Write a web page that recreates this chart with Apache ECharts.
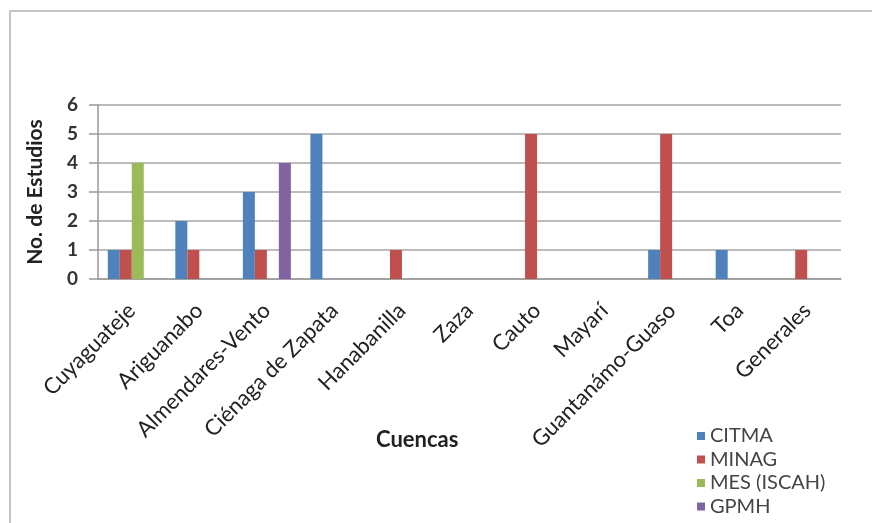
<!DOCTYPE html>
<html>
<head>
<meta charset="utf-8">
<script src="https://cdn.jsdelivr.net/npm/echarts@6/dist/echarts.min.js"></script>
<style>
  html, body { margin: 0; padding: 0; background: #fff; }
  #main { width: 872px; height: 523px; }
</style>
</head>
<body>
<div id="main"></div>
<script>
// cuencas (x axis)
const cuencas = ['Cuyaguateje', 'Ariguanabo', 'Almendares-Vento', 'Ciénaga de Zapata', 'Hanabanilla',
  'Zaza', 'Cauto', 'Mayarí', 'Guantanámo-Guaso', 'Toa', 'Generales'];
// no. de estudios per institucion
const citma = [1, 2, 3, 5, 0, 0, 0, 0, 1, 1, 0];
const minag = [1, 1, 1, 0, 1, 0, 5, 0, 5, 0, 1];
const mes = [4, 0, 0, 0, 0, 0, 0, 0, 0, 0, 0];
const gpmh = [0, 0, 4, 0, 0, 0, 0, 0, 0, 0, 0];

const colores = ['#4F81BD', '#C0504D', '#9BBB59', '#8064A2'];
const fuente = 'Lato';

let chart = echarts.init(document.getElementById('main'));

function serie(nombre, datos) {
  return {
    name: nombre,
    type: 'bar',
    data: datos,
    barWidth: 12,
    barGap: '0%'
  };
}

let option = {
  animation: false,
  color: colores,
  textStyle: { fontFamily: fuente },
  graphic: [{
    type: 'rect',
    z: -10,
    shape: { x: 10, y: 11, width: 900, height: 600 },
    style: { fill: 'none', stroke: '#c4c4c4', lineWidth: 2 }
  }],
  title: {
    text: 'Cuencas',
    left: 371,
    top: 424,
    textStyle: { fontFamily: fuente, fontSize: 22, fontWeight: 'bold', color: '#222' }
  },
  legend: {
    orient: 'vertical',
    left: 697,
    top: 426,
    padding: 0,
    itemWidth: 8,
    itemHeight: 8,
    itemGap: 3.5,
    icon: 'rect',
    textStyle: { fontFamily: fuente, fontSize: 20, lineHeight: 20, color: '#444' },
    data: ['CITMA', 'MINAG', 'MES (ISCAH)', 'GPMH']
  },
  grid: {
    left: 98,
    top: 105,
    width: 743,
    height: 174
  },
  xAxis: {
    type: 'category',
    data: cuencas,
    axisLine: { lineStyle: { color: '#999', width: 1.5 } },
    axisTick: { show: false },
    axisLabel: {
      rotate: 45,
      interval: 0,
      margin: 28,
      fontFamily: fuente,
      fontSize: 22,
      color: '#222'
    }
  },
  yAxis: {
    type: 'value',
    min: 0,
    max: 6,
    interval: 1,
    name: 'No. de Estudios',
    nameLocation: 'middle',
    nameRotate: 90,
    nameGap: 52,
    nameTextStyle: { fontFamily: fuente, fontSize: 21, fontWeight: 'bold', color: '#222' },
    axisLine: { show: true, lineStyle: { color: '#999', width: 1.5 } },
    axisTick: { show: true, length: 9, lineStyle: { color: '#999', width: 1.5 } },
    axisLabel: { margin: 20, fontFamily: fuente, fontSize: 19, fontWeight: 'bold', color: '#333' },
    splitLine: { lineStyle: { color: '#a6a6a6', width: 1.5 } }
  },
  series: [
    serie('CITMA', citma),
    serie('MINAG', minag),
    serie('MES (ISCAH)', mes),
    serie('GPMH', gpmh)
  ]
};

chart.setOption(option);
</script>
</body>
</html>
